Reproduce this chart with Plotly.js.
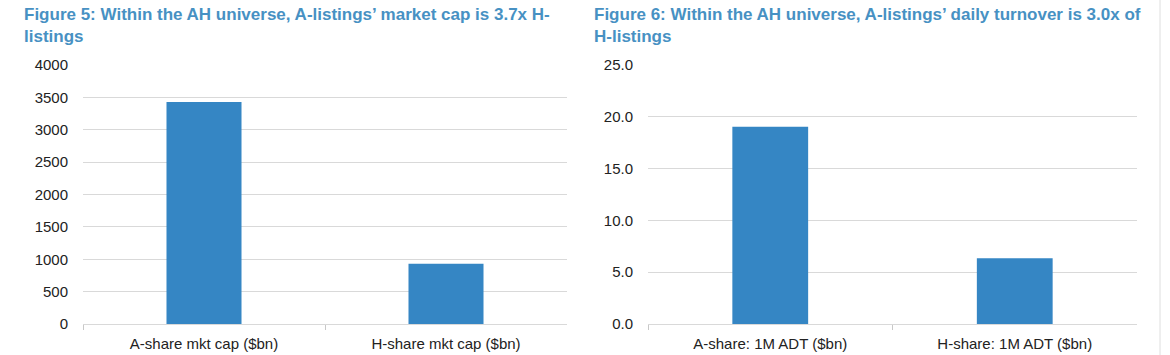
<!DOCTYPE html>
<html><head><meta charset="utf-8">
<script src="https://cdn.plot.ly/plotly-3.0.1.min.js"></script>
<style>html,body{margin:0;padding:0;background:#fff}#c{width:1170px;height:355px}</style>
</head><body><div id="c"></div>
<script>
const catsMktCap = ["A-share mkt cap ($bn)", "H-share mkt cap ($bn)"];
const valsMktCap = [3430, 930];
const catsADT = ["A-share: 1M ADT ($bn)", "H-share: 1M ADT ($bn)"];
const valsADT = [19.05, 6.35];
const title5 = "Figure 5: Within the AH universe, A-listings’ market cap is 3.7x H-<br>listings";
const title6 = "Figure 6: Within the AH universe, A-listings’ daily turnover is 3.0x of<br>H-listings";

const W = 1170, H = 355;
const barColor = "#3586c4";
const titleColor = "#4791c3";
const tickFont = {family: "Liberation Sans, Arial, sans-serif", size: 15, color: "#222"};

const traces = [
  {type: "bar", x: catsMktCap, y: valsMktCap, xaxis: "x", yaxis: "y", marker: {color: barColor}, hoverinfo: "none"},
  {type: "bar", x: catsADT, y: valsADT, xaxis: "x2", yaxis: "y2", marker: {color: barColor}, hoverinfo: "none"}
];

const xCommon = {
  showgrid: false, zeroline: false, showline: false,
  ticks: "outside", ticklen: 5, tickcolor: "#c8c8c8", tickson: "boundaries",
  tickfont: tickFont, ticklabelstandoff: 9, fixedrange: true
};
const yCommon = {
  showgrid: true, gridcolor: "#d9d9d9", gridwidth: 1, zeroline: true, zerolinecolor: "#d9d9d9",
  showline: false, ticks: "", tickfont: tickFont, ticklabelstandoff: 14, fixedrange: true
};

const yb = (H - 324) / H, yt = (H - 65) / H;
const layout = {
  width: W, height: H,
  margin: {l: 0, r: 0, t: 0, b: 0},
  paper_bgcolor: "#fff", plot_bgcolor: "#fff",
  showlegend: false, bargap: 0.69,
  xaxis: Object.assign({}, xCommon, {domain: [83 / W, 567 / W], anchor: "y"}),
  yaxis: Object.assign({}, yCommon, {domain: [yb, yt], range: [0, 4000], dtick: 500, tickformat: "d", anchor: "x"}),
  xaxis2: Object.assign({}, xCommon, {domain: [648 / W, 1137 / W], anchor: "y2"}),
  yaxis2: Object.assign({}, yCommon, {domain: [yb, yt], range: [0, 25], dtick: 5, tickformat: ".1f", anchor: "x2"}),
  shapes: [
    {type: "line", xref: "paper", yref: "paper", x0: 1160 / W, x1: 1160 / W, y0: 0, y1: 1, line: {color: "#dedede", width: 1}}
  ],
  annotations: [
    {text: title5, xref: "paper", yref: "paper", x: 22 / W, y: 1 - 3 / H, xanchor: "left", yanchor: "top", align: "left", showarrow: false,
     font: {family: "Liberation Sans Narrow, Arial Narrow, Liberation Sans, Arial, sans-serif", size: 17, color: titleColor, weight: "bold"}},
    {text: title6, xref: "paper", yref: "paper", x: 592 / W, y: 1 - 3 / H, xanchor: "left", yanchor: "top", align: "left", showarrow: false,
     font: {family: "Liberation Sans Narrow, Arial Narrow, Liberation Sans, Arial, sans-serif", size: 17, color: titleColor, weight: "bold"}}
  ]
};
Plotly.newPlot("c", traces, layout, {displayModeBar: false, staticPlot: true});
</script></body></html>
